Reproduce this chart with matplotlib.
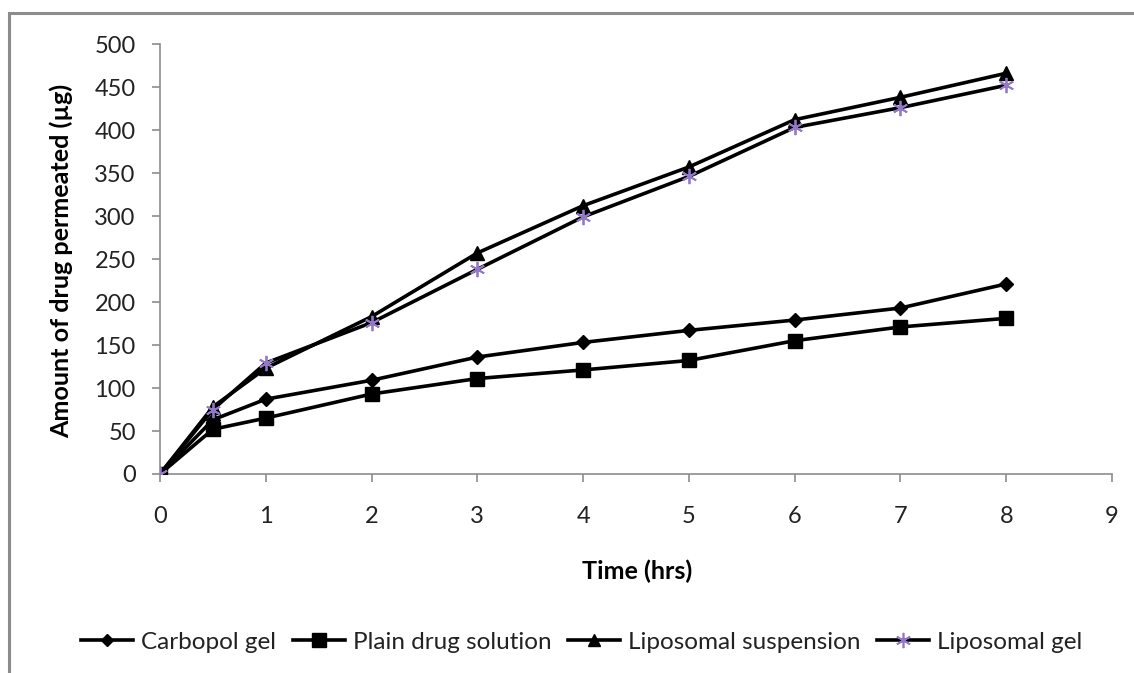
import matplotlib
matplotlib.use("Agg")
import matplotlib.pyplot as plt
from matplotlib.patches import Rectangle
from matplotlib.lines import Line2D

time_hrs = [0, 0.5, 1, 2, 3, 4, 5, 6, 7, 8]
carbopol_gel = [0, 63, 87, 109, 136, 153, 167, 179, 193, 221]
plain_drug_solution = [0, 52, 65, 93, 111, 121, 132, 155, 171, 181]
liposomal_suspension = [0, 78, 123, 183, 257, 312, 357, 412, 438, 466]
liposomal_gel = [0, 75, 129, 176, 238, 299, 346, 403, 426, 452]
series_names = ["Carbopol gel", "Plain drug solution", "Liposomal suspension", "Liposomal gel"]
x_ticks = list(range(0, 10))
y_ticks = list(range(0, 501, 50))

plt.rcParams['font.family'] = ['Lato', 'DejaVu Sans']

fig = plt.figure(figsize=(11.34, 6.73), dpi=100)
ax = fig.add_axes([160/1134, 1 - 474/673, 952/1134, 430/673])

fig.canvas.draw()
r = fig.canvas.get_renderer()


def fitted(text, base, target, weight='normal'):
    t = fig.text(0, 0, text, fontsize=base, fontweight=weight)
    w = t.get_window_extent(r).width
    t.remove()
    return base * target / w


tick_fs = fitted("500", 16, 41)
label_fs = fitted("Time (hrs)", 16, 111, 'bold')
legend_fs = fitted("Carbopol gel", 16, 135)

fig.patches.append(Rectangle((9/1134, -0.1), 1.2, 1 - 13/673 + 0.1, transform=fig.transFigure,
                             fill=False, edgecolor='#8c8c8c', linewidth=2.2, zorder=0))

lw = 2.6
ax.plot(time_hrs, carbopol_gel, color='black', lw=lw, marker='D', markersize=7, zorder=3)
ax.plot(time_hrs, plain_drug_solution, color='black', lw=lw, marker='s', markersize=10, zorder=3)
ax.plot(time_hrs, liposomal_suspension, color='black', lw=lw, marker='^', markersize=10, zorder=3)
ax.plot(time_hrs, liposomal_gel, color='black', lw=lw, marker=(6, 2, 0), markersize=11,
        markeredgecolor='#9478c8', markeredgewidth=1.3, zorder=4)

ax.set_xlim(0, 9)
ax.set_ylim(0, 500)
ax.set_xticks(x_ticks)
ax.set_yticks(y_ticks)
for s in ['top', 'right']:
    ax.spines[s].set_visible(False)
for s in ['left', 'bottom']:
    ax.spines[s].set_color('#8c8c8c')
    ax.spines[s].set_linewidth(1.2)
ax.tick_params(axis='both', direction='out', color='#8c8c8c', length=6, width=1.2,
               labelsize=tick_fs, labelcolor='#222222')
ax.tick_params(axis='y', pad=11.5)
ax.tick_params(axis='x', pad=17)

ax.set_xlabel("Time (hrs)", fontsize=label_fs, fontweight='bold')
ax.set_ylabel("Amount of drug permeated (µg)", fontsize=label_fs, fontweight='bold')
ax.xaxis.set_label_coords(0.501, (474 - 560) / 430)
ax.yaxis.set_label_coords((73 - 160) / 952, 0.495)

handles = [
    Line2D([], [], color='black', lw=lw, marker='D', markersize=6.5),
    Line2D([], [], color='black', lw=lw, marker='s', markersize=10),
    Line2D([], [], color='black', lw=lw, marker='^', markersize=9),
    Line2D([], [], color='black', lw=lw, marker=(6, 2, 0), markersize=11,
           markeredgecolor='#9478c8', markeredgewidth=1.2),
]
fig.legend(handles, series_names, loc='center', bbox_to_anchor=(0.513, 0.046), ncol=4,
           frameon=False, fontsize=legend_fs, handlelength=2.15, handletextpad=0.34,
           columnspacing=0.68, labelcolor='#222222')

fig.savefig("out.png", dpi=100)
